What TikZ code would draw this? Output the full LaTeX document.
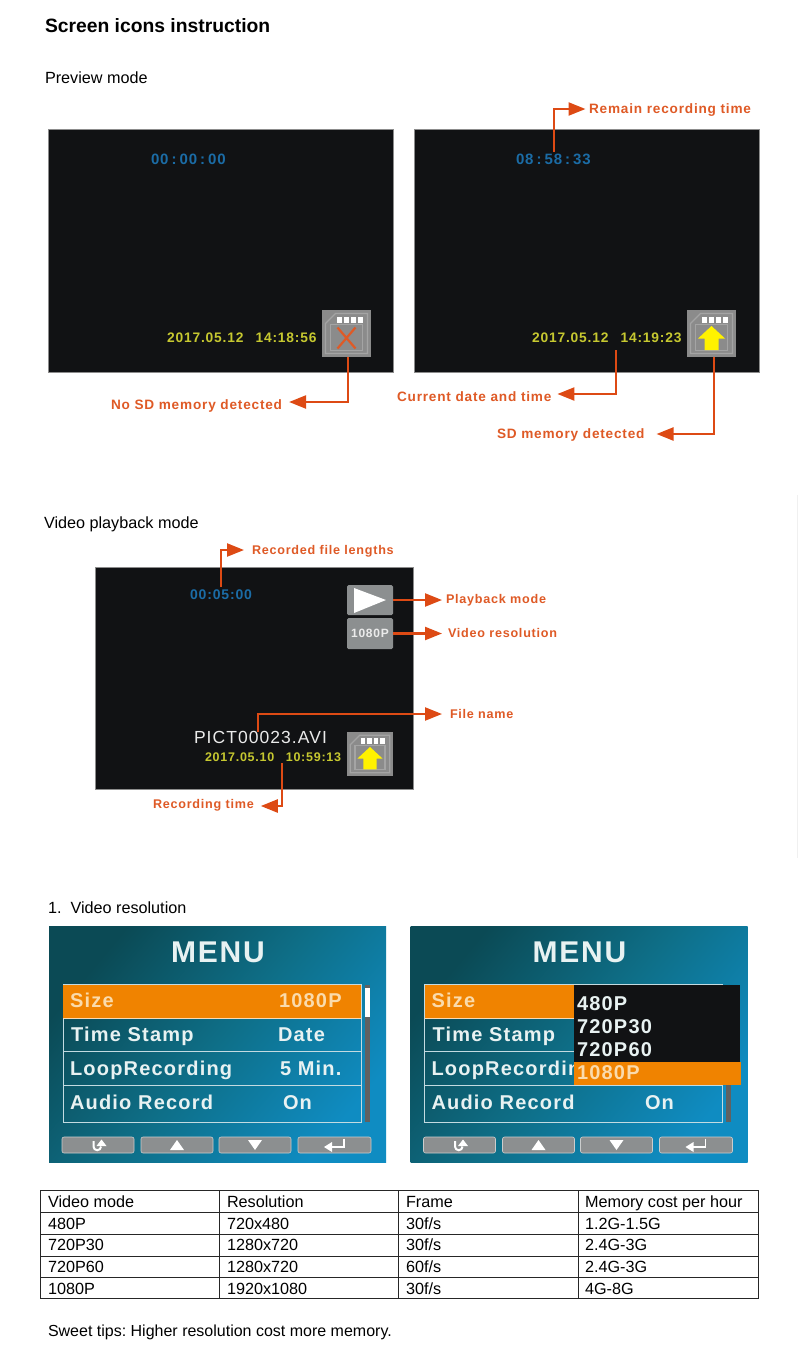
\documentclass[tikz,border=0pt]{standalone}
\usepackage{fontspec}
\setmainfont{Liberation Sans}
\newfontfamily\spfont[LetterSpace=6]{Liberation Sans}
\usetikzlibrary{arrows.meta,calc}
\frenchspacing
\definecolor{lab}{HTML}{DF5A26}
\definecolor{arr}{HTML}{DD4A14}
\definecolor{scr}{HTML}{111214}
\definecolor{tblue}{HTML}{1B6CA6}
\definecolor{tyel}{HTML}{C6C830}
\definecolor{icong}{HTML}{8B8B8B}
\definecolor{iconl}{HTML}{A4A4A4}
\definecolor{btn}{HTML}{8C8F90}
\definecolor{mdark}{HTML}{0B4A55}
\definecolor{mmid}{HTML}{0E6F88}
\definecolor{mlight}{HTML}{0F8CC2}
\definecolor{orng}{HTML}{F08300}
\definecolor{mtxt}{HTML}{E8F2F2}
\definecolor{oytxt}{HTML}{FADBAC}
\tikzset{
  every node/.style={inner sep=0pt,outer sep=0pt},
  plain/.style={anchor=west,font=\fontsize{16.2}{16.2}\selectfont,text height=11.6pt,text depth=0pt},
  callout/.style={anchor=west,text=lab,font=\fontsize{#1}{#1}\selectfont\spfont\bfseries,text height=.72*#1 pt,text depth=0pt},
  callout/.default=12.6,
  lcd/.style={anchor=west,text=#1,font=\fontsize{13.8}{13.8}\selectfont\spfont\bfseries,text height=10pt,text depth=0pt},
  menutxt/.style={anchor=west,text=mtxt,font=\fontsize{20}{20}\selectfont\spfont\bfseries,text height=14.4pt,text depth=0pt},
  screenbox/.style={fill=scr,draw=black!45,line width=.6pt},
  conn/.style={draw=arr,line width=2.3pt,-{Triangle[length=17pt,width=13pt,fill=arr]}},
  rowline/.style={draw=white!75!mmid,line width=.8pt},
  tbl/.style={draw=black!85,line width=.9pt},
}
% SD card icon: #1 name, #2 cx, #3 cy, #4 w, #5 h, #6 content
\newcommand{\sdicon}[6]{%
  \node[fill=icong,minimum width=#4pt,minimum height=#5pt] (#1) at (#2,#3) {};
  \begin{scope}[shift={(#2,#3)},x=#4/49*1pt,y=-#5/47*1pt]
    \draw[iconl,line width=1.2pt] (-21,20) -- (21,20) -- (21,-20) -- (-11,-20) -- (-21,-10) -- cycle;
    \draw[iconl,line width=1.1pt] (-16,17) rectangle (16,-9);
    \foreach \k in {-10,-3,4,11}
      \fill[white] (\k,-17) rectangle ++(5,6);
    #6
  \end{scope}}
\newcommand{\uparrowicon}{\fill[yellow] (0,-7.5) -- (13.5,5) -- (7,5) -- (7,16.5) -- (-7,16.5) -- (-7,5) -- (-13.5,5) -- cycle;}
\newcommand{\xicon}{\draw[lab,line width=2.2pt] (-9,-6) -- (9,15) (9,-6) -- (-9,15);}
% menu backdrop: #1 x offset
\newcommand{\menuscreen}[1]{%
  \begin{scope}[shift={(#1,0)}]
    \shade[top color=mdark,bottom color=mlight,middle color=mmid,shading angle=50] (49,926) rectangle (386,1162);
    \draw[rowline] (63,984) rectangle (361,1122);
    \draw[rowline] (63,1051) -- (361,1051) (63,1085) -- (361,1085);
    \fill[orng] (63,984.5) rectangle (361,1018);
    \draw[white!70!orng,line width=.8pt] (63,1018) -- (361,1018);
    \fill[black!62] (364.5,985) rectangle (369.5,1122);
    \foreach \a/\b in {62/134,141/213,219/291,298/371}
      \draw[fill=btn,draw=white!55!btn,line width=.6pt,rounded corners=2pt] (\a,1137) rectangle (\b,1153);
    \draw[white,line width=2pt] (93.5,1141) -- (93.5,1146.5) arc[start angle=180,end angle=0,radius=3.75];
    \fill[white] (101.5,1139.5) -- (106.5,1146) -- (96.5,1146) -- cycle;
    \fill[white] (170,1150) -- (177,1140) -- (184,1150) -- cycle;
    \fill[white] (248,1140) -- (262,1140) -- (255,1150) -- cycle;
    \draw[white,line width=1.6pt] (344,1138.5) -- (344,1147) -- (330,1147);
    \fill[white] (324,1147) -- (332,1142) -- (332,1152) -- cycle;
  \end{scope}}
\begin{document}
\begin{tikzpicture}[x=1pt,y=-1pt]
\useasboundingbox (0,0) rectangle (798,1366);
\fill[white] (0,0) rectangle (798,1366);
\draw[black!6,line width=1pt] (797,495) -- (797,858);

% headings
\node[plain,font=\fontsize{19.3}{19.3}\selectfont\bfseries,text height=13.9pt] (title) at (45,26) {Screen icons instruction};
\node[plain] (hprev) at (45,78) {Preview mode};
\node[plain] (hplay) at (44,523) {Video playback mode};
\node[plain] (hres) at (48,908) {1.\ \ Video resolution};
\node[plain,font=\fontsize{16}{16}\selectfont] (tips) at (48,1331) {Sweet tips: Higher resolution cost more memory.};

% preview screens
\draw[screenbox] (48.5,129.5) rectangle (393.5,372);
\draw[screenbox] (414,129.5) rectangle (759,372);
\node[lcd=tblue,font=\fontsize{15}{15}\selectfont\spfont\bfseries,text height=10.8pt] (t1) at (151,159) {00\hspace{3pt}:\hspace{3pt}00\hspace{3pt}:\hspace{3pt}00};
\node[lcd=tblue,font=\fontsize{15}{15}\selectfont\spfont\bfseries,text height=10.8pt] (t2) at (516,159) {08\hspace{3pt}:\hspace{3pt}58\hspace{3pt}:\hspace{3pt}33};
\node[lcd=tyel] (d1) at (167,337) {2017.05.12\hspace{12pt}14:18:56};
\node[lcd=tyel] (d2) at (532,337) {2017.05.12\hspace{12pt}14:19:23};
\sdicon{i1}{346.5}{333.5}{49}{47}{\xicon}
\sdicon{i2}{711.5}{333.5}{49}{47}{\uparrowicon}

\node[callout=13.6] (l1) at (111,405) {No SD memory detected};
\node[callout=13.6] (l2) at (589,109) {Remain recording time};
\node[callout=13.6] (l3) at (397,397) {Current date and time};
\node[callout=13.6] (l4) at (497,434) {SD memory detected};
\coordinate (c2) at (554,152);
\coordinate (c3) at (616,350);
\coordinate (i1s) at (348,357);
\coordinate (i2s) at (714,357);
\draw[conn,shorten >=7pt] (i1s) |- ([yshift=3pt]l1.east);
\draw[conn,shorten >=3.5pt] (c2) |- (l2.west);
\draw[conn,shorten >=6pt] (c3) |- ([yshift=3pt]l3.east);
\draw[conn,shorten >=12pt] (i2s) |- (l4.east);

% playback screen
\draw[screenbox] (95,567) rectangle (413,789);
\node[lcd=tblue,font=\fontsize{14}{14}\selectfont\spfont\bfseries] (t3) at (190,594) {00:05:00};
\node[fill=btn,rounded corners=1.5pt,minimum width=46pt,minimum height=30pt] (bplay) at (370,600) {};
\fill[white] (354,588) -- (386,600) -- (354,613) -- cycle;
\node[fill=btn,rounded corners=1.5pt,minimum width=46pt,minimum height=31pt,text=white!92!black,font=\fontsize{12}{12}\selectfont\spfont\bfseries] (bres) at (370,633.5) {1080P};
\node[anchor=west,text=white!92!black,font=\fontsize{17.5}{17.5}\selectfont\spfont,text height=12.6pt,text depth=0pt] (fname) at (194,737) {PICT00023.AVI};
\node[lcd=tyel,font=\fontsize{12.5}{12.5}\selectfont\spfont\bfseries,text height=9pt] (d3) at (205,757) {2017.05.10\hspace{11.5pt}10:59:13};
\sdicon{i3}{370}{754}{46}{44}{\uparrowicon}

\node[callout] (l5) at (252,550) {Recorded file lengths};
\node[callout] (l6) at (446,599) {Playback mode};
\node[callout] (l7) at (448,633) {Video resolution};
\node[callout] (l8) at (450,714) {File name};
\node[callout] (l9) at (153,804) {Recording time};
\coordinate (c5) at (221,587);
\coordinate (c8) at (258,732);
\coordinate (c9) at (282,763);
\draw[conn,shorten >=8pt] (c5) |- (l5.west);
\draw[conn,shorten >=4pt] (bplay.east) -- (l6.west |- bplay.east);
\draw[conn,shorten >=6pt] (bres.east) -- (l7.west |- bres.east);
\draw[conn,shorten >=8pt] (c8) |- (l8.west);
\draw[conn,shorten >=7pt] (c9) |- ([yshift=-2pt]l9.east);

% left menu
\menuscreen{0}
\node[anchor=west,text=mtxt,font=\fontsize{30}{30}\selectfont\spfont\bfseries,text height=21.6pt,text depth=0pt] (m1) at (171,952) {MENU};
\fill[white] (364.5,988) rectangle (369.5,1017);
\node[menutxt,text=oytxt] (a1) at (70,1000) {Size};
\node[menutxt,text=oytxt] (a2) at (279,1000) {1080P};
\node[menutxt] (a3) at (71,1034) {Time Stamp};
\node[menutxt] (a4) at (278,1034) {Date};
\node[menutxt] (a5) at (70,1068) {LoopRecording};
\node[menutxt] (a6) at (280,1068) {5 Min.};
\node[menutxt] (a7) at (70,1102) {Audio Record};
\node[menutxt] (a8) at (283,1102) {On};

% right menu
\menuscreen{361.5}
\node[anchor=west,text=mtxt,font=\fontsize{30}{30}\selectfont\spfont\bfseries,text height=21.6pt,text depth=0pt] (m2) at (532.5,952) {MENU};
\node[menutxt,text=oytxt] (b1) at (431.5,1000) {Size};
\node[menutxt] (b3) at (432.5,1034) {Time Stamp};
\node[menutxt] (b5) at (431.5,1068) {LoopRecording};
\node[menutxt] (b7) at (431.5,1102) {Audio Record};
\node[menutxt] (b8) at (645,1102) {On};
\fill[scr] (574,985) rectangle (740,1062);
\fill[orng] (574,1062) rectangle (740.5,1085);
\node[menutxt] (p1) at (577,1003) {480P};
\node[menutxt] (p2) at (577,1026) {720P30};
\node[menutxt] (p3) at (577,1049) {720P60};
\node[menutxt,text=oytxt] (p4) at (577,1072) {1080P};

% table
\draw[tbl] (40,1190) rectangle (758,1298);
\foreach \yy in {1212,1234,1256,1277} \draw[tbl] (40,\yy) -- (758,\yy);
\foreach \xx in {219,398,578} \draw[tbl] (\xx,1190) -- (\xx,1298);
\node[plain] (c11) at (48,1202) {Video mode};
\node[plain] (c12) at (227,1202) {Resolution};
\node[plain] (c13) at (406,1202) {Frame};
\node[plain] (c14) at (585,1202) {Memory cost per hour};
\node[plain] (c21) at (48,1224) {480P};
\node[plain] (c22) at (227,1224) {720x480};
\node[plain] (c23) at (406,1224) {30f/s};
\node[plain] (c24) at (585,1224) {1.2G-1.5G};
\node[plain] (c31) at (48,1245) {720P30};
\node[plain] (c32) at (227,1245) {1280x720};
\node[plain] (c33) at (406,1245) {30f/s};
\node[plain] (c34) at (585,1245) {2.4G-3G};
\node[plain] (c41) at (48,1267) {720P60};
\node[plain] (c42) at (227,1267) {1280x720};
\node[plain] (c43) at (406,1267) {60f/s};
\node[plain] (c44) at (585,1267) {2.4G-3G};
\node[plain] (c51) at (48,1289) {1080P};
\node[plain] (c52) at (227,1289) {1920x1080};
\node[plain] (c53) at (406,1289) {30f/s};
\node[plain] (c54) at (585,1289) {4G-8G};
\end{tikzpicture}
\end{document}
